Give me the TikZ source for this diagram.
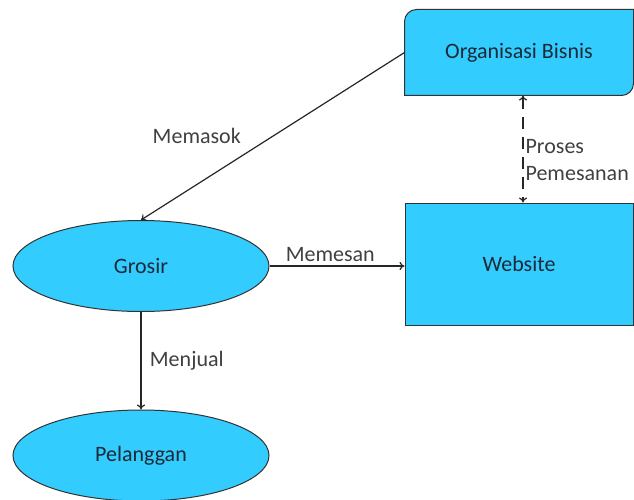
\documentclass[tikz,border=0pt]{standalone}
\usepackage{fontspec}
\setmainfont{Carlito}
\usetikzlibrary{positioning,shapes.geometric,backgrounds,arrows.meta}
\definecolor{boxblue}{RGB}{51,204,255}
\definecolor{nodetext}{RGB}{28,42,56}
\definecolor{labeltext}{RGB}{64,64,64}

\begin{document}
\begin{tikzpicture}[x=1pt,y=1pt,font=\fontsize{22}{27}\selectfont,
    entity/.style={ellipse,draw=black!80,line width=1pt,fill=boxblue,text=nodetext,minimum width=256pt,minimum height=91pt,inner sep=0pt},
    sysbox/.style={rectangle,draw=black!80,line width=1pt,fill=boxblue,text=nodetext,minimum width=228pt,inner sep=0pt},
    flow/.style={draw=black!85,line width=1.2pt,-{To[length=5pt,width=8pt]}},
    lbl/.style={text=labeltext}]
    \useasboundingbox (0,0) rectangle (634,499);

    % main modules
      \node[sysbox,draw=none,fill=none,minimum height=85pt] (org) at (519,446.5) {Organisasi Bisnis};
      \node[sysbox,minimum height=122pt] (web) at (519,235) {Website};
      \node[entity] (grosir) at (141,233) {Grosir};
      \node[entity] (pelanggan) at (141,43.5) {Pelanggan};

      % rounded diagonal corners
      \begin{scope}[on background layer]
        \filldraw[draw=black!80,line width=1pt,fill=boxblue] (org.south west) -- ([yshift=-12pt]org.north west)
          arc[start angle=180,end angle=90,radius=12pt] -- (org.north east) -- ([yshift=12pt]org.south east)
          arc[start angle=0,end angle=-90,radius=12pt] -- cycle;
      \end{scope}

      % connections
      \draw[flow] (org.west) -- node[lbl,pos=0.5,left=28pt]{Memasok} (grosir.north);
      \draw[flow] (grosir.east) -- node[lbl,pos=0.45,above]{Memesan} (grosir.east -| web.west);
      \draw[flow] (grosir.south) -- node[lbl,pos=0.5,right=5pt]{Menjual} (pelanggan.north);
      \draw[flow,dash pattern=on 12pt off 8pt,{To[length=5pt,width=8pt]}-{To[length=5pt,width=8pt]}]
        ([xshift=4pt]org.south) -- node[lbl,pos=0.6,right,inner sep=2pt,align=left]{Proses\\Pemesanan} ([xshift=4pt]web.north);

\end{tikzpicture}
\end{document}
